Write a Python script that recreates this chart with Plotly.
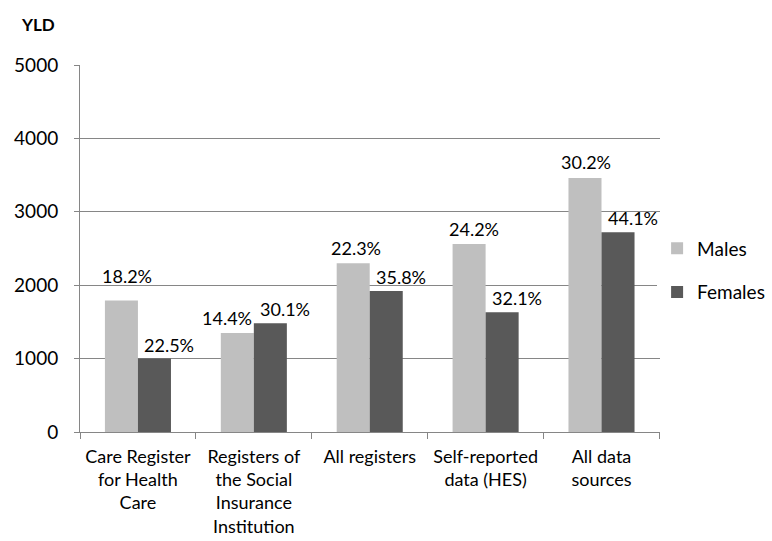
import plotly.graph_objects as go

categories = ["Care Register<br>for Health<br>Care",
              "Registers of<br>the Social<br>Insurance<br>Institution",
              "All registers",
              "Self-reported<br>data (HES)",
              "All data<br>sources"]
males = [1790, 1350, 2300, 2560, 3460]
females = [1000, 1480, 1920, 1630, 2720]
males_pct = ["18.2%", "14.4%", "22.3%", "24.2%", "30.2%"]
females_pct = ["22.5%", "30.1%", "35.8%", "32.1%", "44.1%"]
y_ticks = [0, 1000, 2000, 3000, 4000, 5000]

FONT = "Lato"
fig = go.Figure()
fig.add_trace(go.Bar(x=categories, y=males, name="Males", marker_color="#BFBFBF",
                     marker_line_width=0, legendgroup="m"))
fig.add_trace(go.Bar(x=categories, y=females, name="Females", marker_color="#595959",
                     marker_line_width=0, legendgroup="f"))

# label offsets (pixels) relative to bar top centre
m_dx = [6, -10, 3, 5, 1]
m_dy = [25, 15, 15, 15, 16]
for i, c in enumerate(categories):
    fig.add_annotation(x=c, y=males[i], text=males_pct[i], showarrow=False,
                       xshift=-16.5 + m_dx[i], yshift=m_dy[i], yanchor="middle",
                       font=dict(family=FONT, size=18, color="black"))
    fig.add_annotation(x=c, y=females[i], text=females_pct[i], showarrow=False,
                       xshift=16.5 + 15, yshift=14, yanchor="middle",
                       font=dict(family=FONT, size=18, color="black"))

fig.add_annotation(x=-0.105, y=1.109, xref="paper", yref="paper", text="<b>YLD</b>",
                   showarrow=False, xanchor="left", yanchor="middle",
                   font=dict(family=FONT, size=17, color="black"))

fig.update_layout(
    width=772, height=541,
    margin=dict(l=80, r=112, t=65, b=109, autoexpand=False),
    paper_bgcolor="white", plot_bgcolor="white",
    barmode="group", bargap=0.43, bargroupgap=0,
    font=dict(family=FONT, size=18, color="black"),
    showlegend=True,
    legend=dict(x=0.995, y=0.44, xanchor="left", yanchor="middle",
                font=dict(family=FONT, size=19), tracegroupgap=16,
                itemwidth=30),
    xaxis=dict(showline=True, linecolor="#868686", linewidth=1, automargin=False,
               ticks="outside", tickson="boundaries", ticklen=6, tickcolor="#868686",
               ticklabelstandoff=8, tickfont=dict(family=FONT, size=18)),
    yaxis=dict(range=[0, 5000], tickvals=y_ticks, showgrid=True, gridcolor="#868686",
               gridwidth=1, showline=True, linecolor="#868686", linewidth=1,
               automargin=False,
               ticks="outside", ticklen=5, tickcolor="#868686", zeroline=False,
               ticklabelstandoff=12, tickfont=dict(family=FONT, size=19)),
)
fig.write_html("out.html", config={"displayModeBar": False},
               post_script="document.body.style.margin='0';document.body.style.overflow='hidden';")
